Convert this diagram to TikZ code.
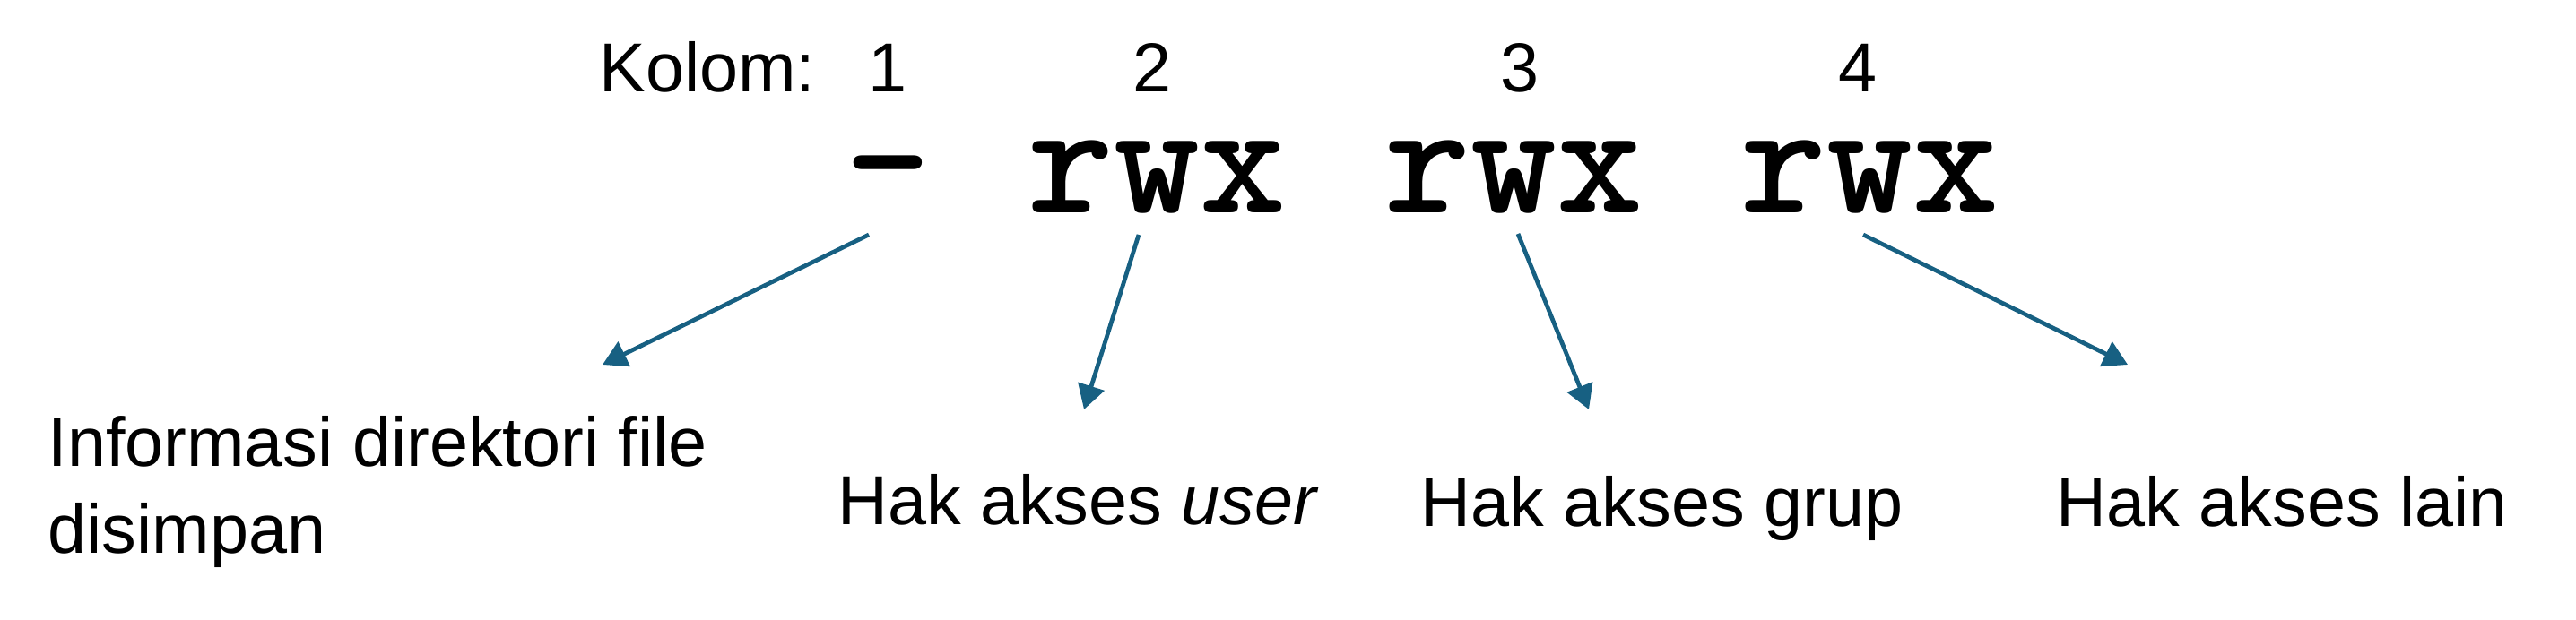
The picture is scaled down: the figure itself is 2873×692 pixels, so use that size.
\documentclass[tikz,border=0pt]{standalone}
\usepackage{fontspec}
\setmainfont{Liberation Sans}
\newfontfamily\permfont{lmmonolt10-bold.otf}
\usetikzlibrary{arrows.meta}
\definecolor{linkblue}{RGB}{23,96,130}

\begin{document}
\begin{tikzpicture}[x=0.01cm,y=-0.01cm,
	label/.style={inner sep=0pt,font=\fontsize{22}{27.8}\selectfont},
	perm/.style={inner sep=0pt,font=\permfont\fontsize{52}{52}\selectfont},
	pointer/.style={draw=\ARROWCOLOR,line width=1.35pt,-{Triangle[length=0.27cm,width=0.3cm,fill=\ARROWCOLOR]}}]

\def\ARROWCOLOR{linkblue}
	\useasboundingbox (0,0) rectangle (2873,692);
	% header
	\node[label,anchor=base west] (kolom) at (668,103) {Kolom:};
	\node[label,anchor=base] (col1) at (990,103) {1};
	\node[label,anchor=base] (col2) at (1285,103) {2};
	\node[label,anchor=base] (col3) at (1695,103) {3};
	\node[label,anchor=base] (col4) at (2072,103) {4};
	\node[perm,anchor=base] (dash) at (990,238) {-};
	\node[perm,anchor=base] (perm1) at (1290,238) {rwx};
	\node[perm,anchor=base] (perm2) at (1688,238) {rwx};
	\node[perm,anchor=base] (perm3) at (2085,238) {rwx};
	% labels
	\node[label,anchor=base west,align=left] (info) at (53,618) {Informasi direktori file\\disimpan};
	\node[label,anchor=base west] (user) at (934,586) {Hak akses \textit{user}};
	\node[label,anchor=base west] (grup) at (1584,588) {Hak akses grup};
	\node[label,anchor=base west] (lain) at (2293,588) {Hak akses lain};
	\coordinate (tip1) at (672,407);
	\coordinate (tip2) at (1209,457);
	\coordinate (tip3) at (1772,457);
	\coordinate (tip4) at (2373,407);
	\draw[pointer] ([shift={(-21,24)}]dash.base) -- (tip1);
	\draw[pointer] ([shift={(-20,24)}]perm1.base) -- (tip2);
	\draw[pointer] ([shift={(5,23)}]perm2.base) -- (tip3);
	\draw[pointer] ([shift={(-7,24)}]perm3.base) -- (tip4);

\end{tikzpicture}
\end{document}
